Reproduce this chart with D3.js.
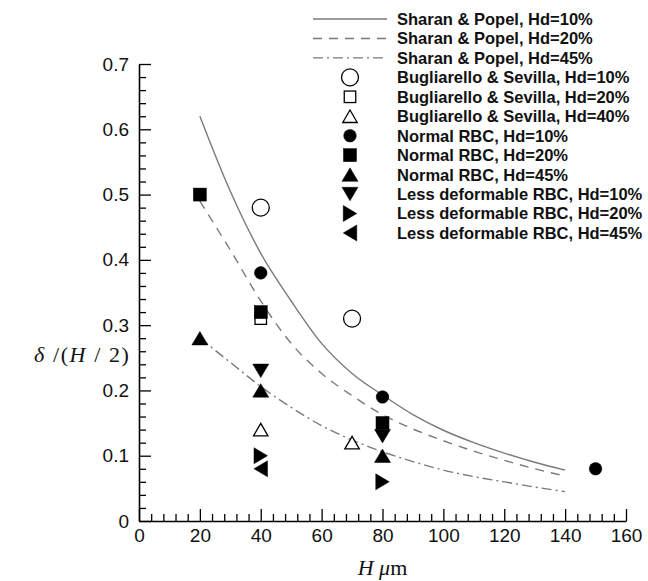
<!DOCTYPE html>
<html>
<head>
<meta charset="utf-8">
<script src="https://cdn.jsdelivr.net/npm/d3@7"></script>
<style>
  html, body { margin: 0; padding: 0; background: #fff; }
  svg { display: block; }
</style>
</head>
<body>
<script>
// Cell-free layer thickness, normalised by channel half-width, versus channel width H.

// Sharan & Popel model curves, sampled along H (µm)
const modelH   = [20, 30, 40, 50, 60, 70, 80, 90, 100, 110, 120, 130, 140];
const sharan10 = [0.62, 0.505, 0.41, 0.337, 0.272, 0.226, 0.193, 0.163, 0.139, 0.12, 0.104, 0.09, 0.078];
const sharan20 = [0.49, 0.415, 0.337, 0.272, 0.226, 0.192, 0.163, 0.141, 0.123, 0.107, 0.093, 0.08, 0.069];
const sharan45 = [0.28, 0.243, 0.206, 0.174, 0.146, 0.124, 0.106, 0.091, 0.078, 0.068, 0.06, 0.052, 0.045];

// Measured / simulated points as [H, δ/(H/2)]
const bugliarello10 = [[40, 0.48], [70, 0.31]];
const bugliarello20 = [[40, 0.31]];
const bugliarello40 = [[40, 0.14], [70, 0.12]];
const normal10 = [[40, 0.38], [80, 0.19], [150, 0.08]];
const normal20 = [[20, 0.50], [40, 0.32], [80, 0.15]];
const normal45 = [[20, 0.28], [40, 0.20], [80, 0.10]];
const rigid10 = [[40, 0.23], [80, 0.13]];
const rigid20 = [[40, 0.10], [80, 0.06]];
const rigid45 = [[40, 0.08]];

// Axis ticks
const xTicks = [0, 20, 40, 60, 80, 100, 120, 140, 160];
const yTicks = [0, 0.1, 0.2, 0.3, 0.4, 0.5, 0.6, 0.7];

const W = 648, H = 581;
const svg = d3.select("body").append("svg").attr("width", W).attr("height", H);

const x = d3.scaleLinear().domain([0, 160]).range([139, 626]);
const y = d3.scaleLinear().domain([0, 0.7]).range([521, 64]);

const tickFont = "'Liberation Sans', Arial, sans-serif";

// minor ticks
const xMinor = d3.range(0, 160.001, 4).filter(v => v % 20 !== 0);
const yMinor = d3.range(0, 0.7001, 0.02).map(v => +v.toFixed(2)).filter(v => Math.round(v * 100) % 10 !== 0);

svg.append("g").attr("transform", `translate(0,${y(0)})`)
  .call(d3.axisBottom(x).tickValues(xMinor).tickSizeInner(-7).tickSizeOuter(0).tickFormat(""))
  .call(g => g.select(".domain").remove())
  .selectAll("line").attr("stroke", "#000").attr("stroke-width", 1.3);

svg.append("g").attr("transform", `translate(${x(0)},0)`)
  .call(d3.axisLeft(y).tickValues(yMinor).tickSizeInner(-7).tickSizeOuter(0).tickFormat(""))
  .call(g => g.select(".domain").remove())
  .selectAll("line").attr("stroke", "#000").attr("stroke-width", 1.3);

const xAxis = svg.append("g").attr("transform", `translate(0,${y(0)})`)
  .call(d3.axisBottom(x).tickValues(xTicks).tickSizeInner(-12).tickSizeOuter(0).tickPadding(8).tickFormat(d3.format("d")));
const yAxis = svg.append("g").attr("transform", `translate(${x(0)},0)`)
  .call(d3.axisLeft(y).tickValues(yTicks).tickSizeInner(-12).tickSizeOuter(0).tickPadding(10)
    .tickFormat(d => d === 0 ? "0" : d3.format(".1f")(d)));

[xAxis, yAxis].forEach(g => {
  g.select(".domain").attr("stroke", "#000").attr("stroke-width", 1.6);
  g.selectAll(".tick line").attr("stroke", "#000").attr("stroke-width", 1.3);
  g.selectAll(".tick text").attr("font-family", tickFont).attr("font-size", 19).attr("fill", "#111");
});

// model curves
const curveStyles = [
  { values: sharan10, dash: null },
  { values: sharan20, dash: "9,7" },
  { values: sharan45, dash: "10,4,2,4" }
];
const line = d3.line().x(d => x(d[0])).y(d => y(d[1])).curve(d3.curveMonotoneX);
curveStyles.forEach(c => {
  svg.append("path")
    .datum(modelH.map((h, i) => [h, c.values[i]]))
    .attr("d", line)
    .attr("fill", "none")
    .attr("stroke", "#7a7a7a")
    .attr("stroke-width", 1.4)
    .attr("stroke-dasharray", c.dash);
});

// marker shapes centred on (0,0)
function triPath(dir, w, h) {
  const a = w / 2, b = h / 2;
  if (dir === "up")    return `M0,${-b}L${a},${b}L${-a},${b}Z`;
  if (dir === "down")  return `M0,${b}L${a},${-b}L${-a},${-b}Z`;
  if (dir === "right") return `M${b},0L${-b},${a}L${-b},${-a}Z`;
  return `M${-b},0L${b},${a}L${b},${-a}Z`;
}
function drawMarker(g, kind, filled) {
  const fill = filled ? "#000" : "#fff";
  const stroke = "#000";
  const sw = filled ? 0.5 : 1.3;
  if (kind === "circle") {
    g.append("circle").attr("r", filled ? 6.3 : 8.5).attr("fill", fill).attr("stroke", stroke).attr("stroke-width", sw);
  } else if (kind === "square") {
    const s = filled ? 13 : 11.5;
    g.append("rect").attr("x", -s / 2).attr("y", -s / 2).attr("width", s).attr("height", s)
      .attr("fill", fill).attr("stroke", stroke).attr("stroke-width", sw);
  } else {
    const w = filled ? 16 : 14.5, h = filled ? 13.5 : 12.5;
    g.append("path").attr("d", triPath(kind, w, h)).attr("fill", fill).attr("stroke", stroke).attr("stroke-width", sw);
  }
}

const pointSeries = [
  { data: bugliarello10, kind: "circle", filled: false, label: "Bugliarello & Sevilla, Hd=10%" },
  { data: bugliarello20, kind: "square", filled: false, label: "Bugliarello & Sevilla, Hd=20%" },
  { data: bugliarello40, kind: "up",     filled: false, label: "Bugliarello & Sevilla, Hd=40%" },
  { data: normal10,      kind: "circle", filled: true,  label: "Normal RBC, Hd=10%" },
  { data: normal20,      kind: "square", filled: true,  label: "Normal RBC, Hd=20%" },
  { data: normal45,      kind: "up",     filled: true,  label: "Normal RBC, Hd=45%" },
  { data: rigid10,       kind: "down",   filled: true,  label: "Less deformable RBC, Hd=10%" },
  { data: rigid20,       kind: "right",  filled: true,  label: "Less deformable RBC, Hd=20%" },
  { data: rigid45,       kind: "left",   filled: true,  label: "Less deformable RBC, Hd=45%" }
];

pointSeries.forEach(s => {
  s.data.forEach(p => {
    const g = svg.append("g").attr("transform", `translate(${x(p[0])},${y(p[1])})`);
    drawMarker(g, s.kind, s.filled);
  });
});

// legend
const legendFont = "'Liberation Sans', Arial, sans-serif";
const lineLabels = ["Sharan & Popel, Hd=10%", "Sharan & Popel, Hd=20%", "Sharan & Popel, Hd=45%"];
const rowY = i => 19 + i * 19.45;
const legend = svg.append("g");
curveStyles.forEach((c, i) => {
  legend.append("line")
    .attr("x1", 313).attr("x2", 387).attr("y1", rowY(i)).attr("y2", rowY(i))
    .attr("stroke", "#7a7a7a").attr("stroke-width", 1.4).attr("stroke-dasharray", c.dash);
});
pointSeries.forEach((s, j) => {
  const g = legend.append("g").attr("transform", `translate(350,${rowY(j + 3)})`);
  drawMarker(g, s.kind, s.filled);
});
lineLabels.concat(pointSeries.map(s => s.label)).forEach((t, i) => {
  legend.append("text")
    .attr("x", 397).attr("y", rowY(i)).attr("dy", "0.36em")
    .attr("font-family", legendFont).attr("font-weight", "bold").attr("font-size", 16.5)
    .attr("fill", "#111")
    .text(t);
});

// axis titles
const serif = "'Liberation Serif', 'Times New Roman', serif";
const yt = svg.append("text").attr("x", 34).attr("y", 362)
  .attr("font-family", serif).attr("font-size", 22).attr("letter-spacing", 1.6)
  .attr("xml:space", "preserve").style("white-space", "pre").attr("fill", "#111");
yt.append("tspan").attr("font-style", "italic").text("δ");
yt.append("tspan").text(" /(");
yt.append("tspan").attr("font-style", "italic").text("H");
yt.append("tspan").text(" / 2)");

const xt = svg.append("text").attr("x", x(80)).attr("y", 575).attr("text-anchor", "middle")
  .attr("font-family", serif).attr("font-size", 22).attr("fill", "#111");
xt.append("tspan").attr("font-style", "italic").text("H ");
xt.append("tspan").attr("font-style", "italic").text("μ");
xt.append("tspan").text("m");
</script>
</body>
</html>
